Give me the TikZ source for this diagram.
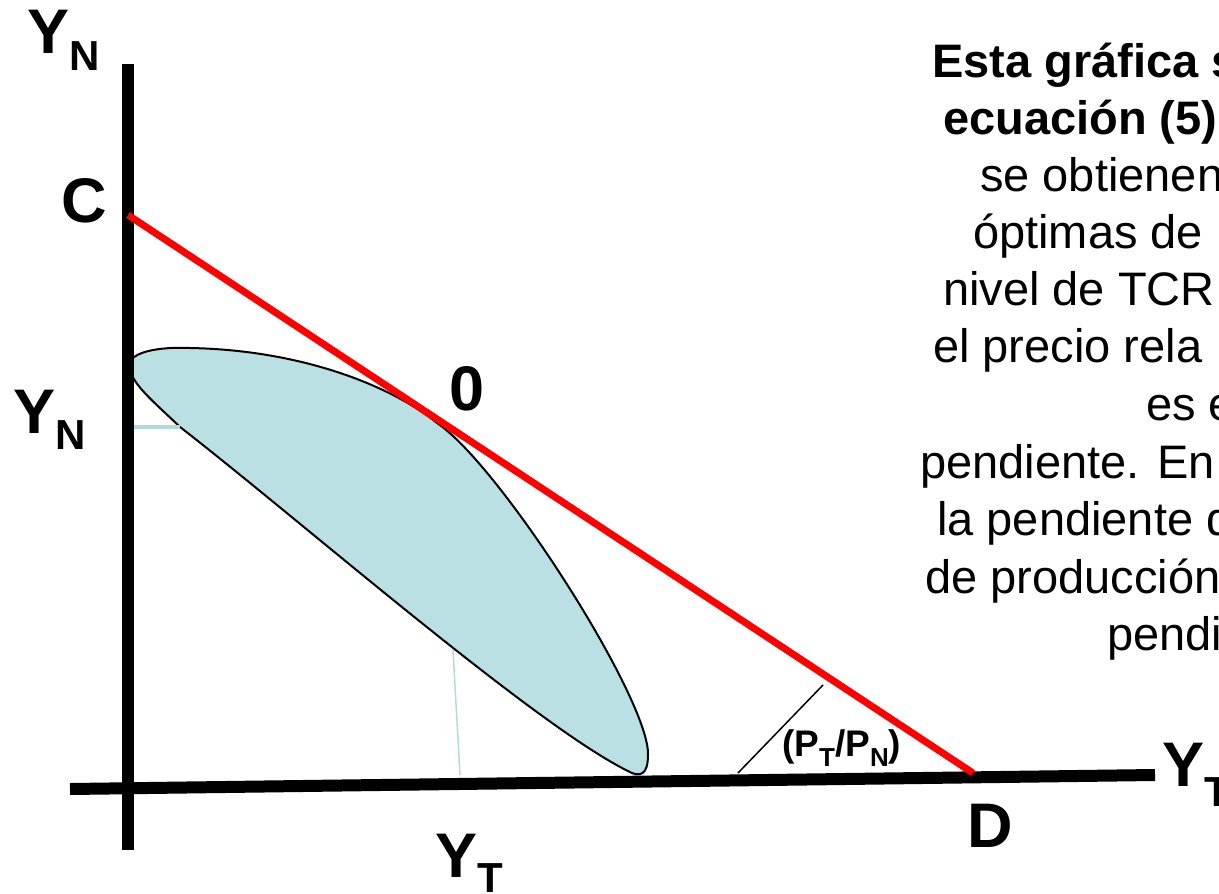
\documentclass[tikz,border=0pt]{standalone}
\usepackage{fontspec}
\setmainfont{Liberation Sans}
\definecolor{blobfill}{RGB}{186,224,227}
\definecolor{guide}{RGB}{178,218,222}
\newcommand\sublbl[2][17pt]{\raisebox{-#1}{\fontsize{42}{42}\selectfont #2}}
\newcommand\subratio[1]{\raisebox{-10pt}{\fontsize{26}{26}\selectfont #1}}
\begin{document}
\begin{tikzpicture}[x=1pt,y=-1pt,
  lbl/.style={font=\bfseries\fontsize{63}{63}\selectfont, inner sep=0pt, anchor=base west},
  body/.style={font=\fontsize{47}{57}\selectfont, inner sep=0pt, anchor=base west},
  bodyb/.style={body, font=\bfseries\fontsize{47}{57}\selectfont},
  axisline/.style={line width=12pt},
  budget/.style={red, line width=7pt},
  guideline/.style={guide},
]
\useasboundingbox (0,0) rectangle (1219,894);
\clip (0,0) rectangle (1219,894);

% named points
\coordinate (vtop) at (128,64);
\coordinate (vbot) at (128,850);
\coordinate (hleft) at (70,789);
\coordinate (hright) at (1155,775);
\coordinate (C) at (128,215);
\coordinate (D) at (973,773);
\coordinate (tan) at (437,423);
\coordinate (gh1) at (128,427);
\coordinate (gh2) at (180,427);
\coordinate (gv1) at (453,650);
\coordinate (gv2) at (460,775);
\coordinate (a1) at (738,773);
\coordinate (a2) at (823,685);

% production set
\draw[line width=2pt, fill=blobfill] (tan) .. controls (500,465) and (650,700) .. (648,755)
  .. controls (648,775) and (640,776) .. (632,773)
  .. controls (540,730) and (300,520) .. (gh2)
  .. controls (150,398) and (120,375) .. (133,358)
  .. controls (143,349) and (170,347) .. (190,348)
  .. controls (300,350) and (390,385) .. cycle;

% guide lines
\draw[guideline, line width=4pt] (gh1) -- (gh2);
\draw[guideline, line width=1.5pt] (gv1) -- (gv2);

% axes
\draw[axisline] (vtop) -- (vbot);
\draw[axisline] (hleft) -- (hright);

% budget line
\draw[budget] (C) -- (D);

% angle line
\draw[line width=1.5pt] (a1) -- (a2);

% labels
\node[lbl] (ynTop) at (27,53) {Y\sublbl{N}};
\node[lbl] (ynLeft) at (13,433) {Y\sublbl[16pt]{N}};
\node[lbl] (ytBot) at (435,877) {Y\sublbl[15pt]{T}};
\node[lbl] (ytRight) at (1162,786) {Y\sublbl[20pt]{T}};
\node[lbl] (lC) at (61,222) {C};
\node[lbl] (lD) at (967,847) {D};
\node[lbl] (lzero) at (449,410) {0};
\node[font=\bfseries\fontsize{37}{37}\selectfont, inner sep=0pt, anchor=base west] (ratio) at (782,756) {(P\subratio{T}/P\subratio{N})};

% text block
\node[bodyb] (l1) at (932,77) {Esta gráfica s};
\node[bodyb] (l2) at (943,134) {ecuación (5)};
\node[body] (l3) at (980,191) {se obtienen};
\node[body] (l4) at (973,248) {óptimas de};
\node[body] (l5) at (943,305) {nivel de TCR};
\node[body] (l6) at (933,362) {el precio rela};
\node[body] (l7) at (1146,420) {es e};
\node[body] (l8) at (920,478) {pendiente. En};
\node[body] (l9) at (937,535) {la pendiente d};
\node[body] (l10) at (925,593) {de producción};
\node[body] (l11) at (1107,650) {pendi};
\end{tikzpicture}
\end{document}
